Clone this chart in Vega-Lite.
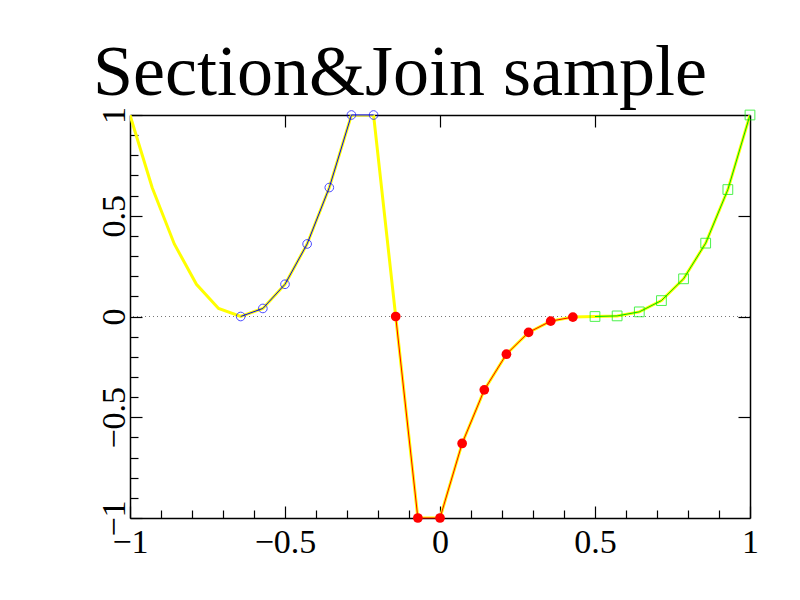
{
  "$schema": "https://vega.github.io/schema/vega-lite/v6.json",
  "width": 620,
  "height": 403,
  "autosize": "none",
  "padding": {"left": 130, "top": 115, "right": 50, "bottom": 82},
  "background": "white",
  "config": {"view": {"stroke": null}},
  "title": {
    "text": "Section&Join sample",
    "font": "Liberation Serif",
    "fontSize": 72,
    "fontWeight": "normal",
    "color": "black",
    "anchor": "middle",
    "dx": -40,
    "baseline": "alphabetic",
    "offset": -60
  },
  "datasets": {
    "all": [
      {"x": -1.0, "y": 1.0}, {"x": -0.9286, "y": 0.64}, {"x": -0.8571, "y": 0.36}, {"x": -0.7857, "y": 0.16},
      {"x": -0.7143, "y": 0.04}, {"x": -0.6429, "y": 0.0}, {"x": -0.5714, "y": 0.04}, {"x": -0.5, "y": 0.16},
      {"x": -0.4286, "y": 0.36}, {"x": -0.3571, "y": 0.64}, {"x": -0.2857, "y": 1.0}, {"x": -0.2143, "y": 1.0},
      {"x": -0.1429, "y": 0.0}, {"x": -0.0714, "y": -1.0}, {"x": 0.0, "y": -1.0}, {"x": 0.0714, "y": -0.63},
      {"x": 0.1429, "y": -0.364}, {"x": 0.2143, "y": -0.187}, {"x": 0.2857, "y": -0.079}, {"x": 0.3571, "y": -0.023},
      {"x": 0.4286, "y": -0.003}, {"x": 0.5, "y": 0.0}, {"x": 0.5714, "y": 0.003}, {"x": 0.6429, "y": 0.023},
      {"x": 0.7143, "y": 0.079}, {"x": 0.7857, "y": 0.187}, {"x": 0.8571, "y": 0.364}, {"x": 0.9286, "y": 0.63},
      {"x": 1.0, "y": 1.0}
    ],
    "blue": [
      {"x": -0.6429, "y": 0.0}, {"x": -0.5714, "y": 0.04}, {"x": -0.5, "y": 0.16}, {"x": -0.4286, "y": 0.36},
      {"x": -0.3571, "y": 0.64}, {"x": -0.2857, "y": 1.0}, {"x": -0.2143, "y": 1.0}
    ],
    "red": [
      {"x": -0.1429, "y": 0.0}, {"x": -0.0714, "y": -1.0}, {"x": 0.0, "y": -1.0}, {"x": 0.0714, "y": -0.63},
      {"x": 0.1429, "y": -0.364}, {"x": 0.2143, "y": -0.187}, {"x": 0.2857, "y": -0.079}, {"x": 0.3571, "y": -0.023},
      {"x": 0.4286, "y": -0.003}
    ],
    "green": [
      {"x": 0.5, "y": 0.0}, {"x": 0.5714, "y": 0.003}, {"x": 0.6429, "y": 0.023}, {"x": 0.7143, "y": 0.079},
      {"x": 0.7857, "y": 0.187}, {"x": 0.8571, "y": 0.364}, {"x": 0.9286, "y": 0.63}, {"x": 1.0, "y": 1.0}
    ],
    "zero": [{"y": 0}]
  },
  "resolve": {"axis": {"x": "independent", "y": "independent"}},
  "layer": [
    {
      "data": {"name": "zero"},
      "mark": {"type": "rule", "color": "#777777", "strokeWidth": 1, "strokeDash": [1, 3]},
      "encoding": {
        "y": {"field": "y", "type": "quantitative", "scale": {"domain": [-1, 1], "nice": false, "zero": false}, "axis": null}
      }
    },
    {
      "data": {"name": "all"},
      "mark": {"type": "line", "color": "#ffff00", "strokeWidth": 3, "clip": true},
      "encoding": {
        "x": {
          "field": "x", "type": "quantitative",
          "scale": {"domain": [-1, 1], "nice": false, "zero": false},
          "axis": {
            "orient": "bottom", "title": null, "grid": false,
            "values": [-1, -0.9, -0.8, -0.7, -0.6, -0.5, -0.4, -0.3, -0.2, -0.1, 0, 0.1, 0.2, 0.3, 0.4, 0.5, 0.6, 0.7, 0.8, 0.9, 1],
            "domain": true, "domainColor": "black", "domainWidth": 1.5,
            "tickColor": "black", "tickWidth": 1.2,
            "tickSize": {"condition": {"test": "abs(datum.value*2 - round(datum.value*2)) < 0.001", "value": -12}, "value": -8},
            "labelExpr": "abs(datum.value*2 - round(datum.value*2)) < 0.001 ? format(datum.value, '') : ''",
            "labelFont": "Liberation Serif", "labelFontSize": 34, "labelColor": "black",
            "labelPadding": 19, "labelOverlap": false, "labelFlush": false, "labelBound": false
          }
        },
        "y": {
          "field": "y", "type": "quantitative",
          "scale": {"domain": [-1, 1], "nice": false, "zero": false},
          "axis": {
            "orient": "left", "title": null, "grid": false,
            "values": [-1, -0.9, -0.8, -0.7, -0.6, -0.5, -0.4, -0.3, -0.2, -0.1, 0, 0.1, 0.2, 0.3, 0.4, 0.5, 0.6, 0.7, 0.8, 0.9, 1],
            "domain": true, "domainColor": "black", "domainWidth": 1.5,
            "tickColor": "black", "tickWidth": 1.2,
            "tickSize": {"condition": {"test": "abs(datum.value*2 - round(datum.value*2)) < 0.001", "value": -12}, "value": -8},
            "labelExpr": "abs(datum.value*2 - round(datum.value*2)) < 0.001 ? format(datum.value, '') : ''",
            "labelFont": "Liberation Serif", "labelFontSize": 34, "labelColor": "black",
            "labelAngle": -90, "labelAlign": "center", "labelBaseline": "bottom",
            "labelPadding": 11, "labelOverlap": false, "labelFlush": false, "labelBound": false
          }
        }
      }
    },
    {
      "data": {"name": "blue"},
      "mark": {"type": "line", "color": "#0000ff", "strokeWidth": 1},
      "encoding": {
        "x": {"field": "x", "type": "quantitative", "axis": null},
        "y": {"field": "y", "type": "quantitative", "axis": null}
      }
    },
    {
      "data": {"name": "blue"},
      "mark": {"type": "point", "shape": "circle", "color": "#0000ff", "filled": false, "size": 75, "strokeWidth": 1, "clip": false},
      "encoding": {
        "x": {"field": "x", "type": "quantitative", "axis": null},
        "y": {"field": "y", "type": "quantitative", "axis": null}
      }
    },
    {
      "data": {"name": "red"},
      "mark": {"type": "line", "color": "#ff0000", "strokeWidth": 1},
      "encoding": {
        "x": {"field": "x", "type": "quantitative", "axis": null},
        "y": {"field": "y", "type": "quantitative", "axis": null}
      }
    },
    {
      "data": {"name": "red"},
      "mark": {"type": "point", "shape": "circle", "color": "#ff0000", "filled": true, "opacity": 1, "size": 95},
      "encoding": {
        "x": {"field": "x", "type": "quantitative", "axis": null},
        "y": {"field": "y", "type": "quantitative", "axis": null}
      }
    },
    {
      "data": {"name": "green"},
      "mark": {"type": "line", "color": "#00dd00", "strokeWidth": 1},
      "encoding": {
        "x": {"field": "x", "type": "quantitative", "axis": null},
        "y": {"field": "y", "type": "quantitative", "axis": null}
      }
    },
    {
      "data": {"name": "green"},
      "mark": {"type": "point", "shape": "square", "color": "#00ee00", "filled": false, "size": 95, "strokeWidth": 1},
      "encoding": {
        "x": {
          "field": "x", "type": "quantitative",
          "axis": {
            "orient": "top", "title": null, "grid": false, "labels": false,
            "values": [-0.5, 0, 0.5],
            "domain": true, "domainColor": "black", "domainWidth": 1.5,
            "tickColor": "black", "tickWidth": 1.2, "tickSize": -12
          }
        },
        "y": {
          "field": "y", "type": "quantitative",
          "axis": {
            "orient": "right", "title": null, "grid": false, "labels": false,
            "values": [-0.5, 0, 0.5],
            "domain": true, "domainColor": "black", "domainWidth": 1.5,
            "tickColor": "black", "tickWidth": 1.2, "tickSize": -12
          }
        }
      }
    }
  ]
}
